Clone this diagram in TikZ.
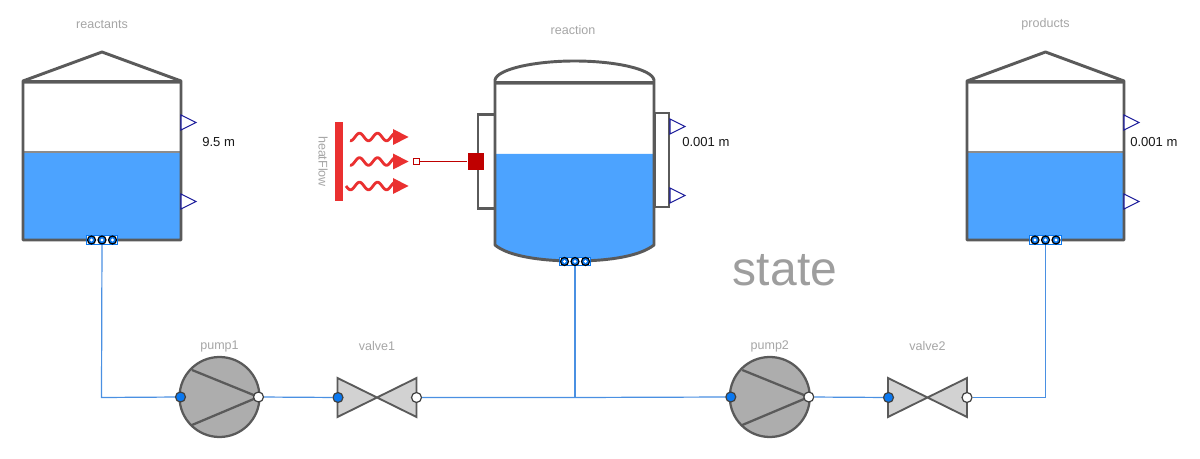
\documentclass[tikz,border=0pt]{standalone}
\usepackage{fontspec}
\setmainfont{Liberation Sans}
\definecolor{tankline}{HTML}{5A5A5A}
\definecolor{fluid}{HTML}{4CA3FF}
\definecolor{pipe}{HTML}{4A90E2}
\definecolor{port}{HTML}{0A78F0}
\definecolor{heat}{HTML}{EA3030}
\definecolor{darkred}{HTML}{BF0000}
\definecolor{labelgray}{HTML}{A6A6A6}
\definecolor{pumpfill}{HTML}{ADADAD}
\definecolor{valvefill}{HTML}{D2D2D2}
\definecolor{sensor}{HTML}{1A1A9A}
\tikzset{
  wall/.style={draw=tankline,line width=2.2pt,line join=round},
  thinwall/.style={draw=tankline,line width=1.6pt,line join=miter},
  pipeline/.style={draw=pipe,line width=0.9pt},
  portin/.style={circle,draw=black!75,line width=0.9pt,fill=port,minimum size=7.5pt,inner sep=0pt},
  portout/.style={circle,draw=black!75,line width=0.9pt,fill=white,minimum size=7.5pt,inner sep=0pt},
  tankport/.style={circle,draw=black,line width=0.9pt,fill=white,minimum size=6pt,inner sep=0pt,
     path picture={\fill[port] (path picture bounding box.south west) rectangle (path picture bounding box.north east);\fill[white] (path picture bounding box.center) circle (1.3pt);}},
  portframe/.style={draw=port,fill=white,line width=0.6pt,minimum width=23.5pt,minimum height=6.5pt,inner sep=0pt},
  lbl/.style={text=labelgray,font=\fontsize{9.4pt}{11pt}\selectfont,inner sep=0pt},
  val/.style={text=black!90,font=\fontsize{9.8pt}{11pt}\selectfont,inner sep=0pt,anchor=west},
  pumpbody/.style={circle,draw=tankline,line width=1.7pt,fill=pumpfill,minimum size=60pt,inner sep=0pt},
  pumpvane/.style={draw=tankline,line width=1.7pt},
  valvebody/.style={draw=tankline,line width=1.4pt,fill=valvefill,line join=miter},
  sensortri/.style={draw=sensor,fill=white,line width=0.8pt,line join=miter},
  heatwave/.style={draw=heat,line width=2.1pt},
  heathead/.style={fill=heat},
}
\newcommand{\opentank}[5]{% name, left x, right x, label, value
  \pgfmathsetmacro{\mx}{(#2+#3)/2}
  \fill[fluid] (#2,152) rectangle (#3,240);
  \draw[black!45,line width=0.9pt] (#2,152) -- (#3,152);
  \draw[black!40,line width=2.2pt] (#2,82.5) -- (#3,82.5);
  \draw[wall] (#2,240) -- (#2,81) -- (\mx,52) -- (#3,81) -- (#3,240) -- cycle;
  \draw[wall] (#2,81.5) -- (#3,81.5);
  \draw[sensortri] (#3,115) -- (#3+15,122.5) -- (#3,130) -- cycle;
  \draw[sensortri] (#3,194) -- (#3+15,201.5) -- (#3,209) -- cycle;
  \node[portframe] at (\mx,240) {};
  \node[tankport] (#1a) at (\mx-10.5,240) {};
  \node[tankport] (#1b) at (\mx,240) {};
  \node[tankport] (#1c) at (\mx+10.5,240) {};
  \node[lbl] (#1label) at (\mx,24.5) {#4};
}
\newcommand{\pumpunit}[4]{% name, center x, label
  \node[pumpbody] (#1) at (#2,397) {};
  \draw[pumpvane] (#2-27.5,370) -- (#2+39,397) -- (#2-27.5,425);
  \node[portin] (#1in) at (#2-39,397) {};
  \node[portout] (#1out) at (#2+39,397) {};
  \node[lbl] (#1label) at (#2,346) {#3};
}
\newcommand{\valveunit}[3]{% name, center x, label
  \draw[valvebody] (#2-39.5,378) -- (#2+39.5,417) -- (#2+39.5,378) -- (#2-39.5,417) -- cycle;
  \node[portin] (#1in) at (#2-39,397.5) {};
  \node[portout] (#1out) at (#2+39.5,397.5) {};
  \node[lbl] (#1label) at (#2,346) {#3};
}
\begin{document}
\begin{tikzpicture}[x=0.75pt,y=-0.75pt]
\useasboundingbox (0,0) rectangle (1200,459);
\fill[white] (0,0) rectangle (1200,459);

% pipes first
\coordinate (junction) at (575,397.5);
\coordinate (c1) at (101.5,397.5);
\coordinate (c2) at (1045.5,397.5);

% left tank
\opentank{reactants}{23}{181}{reactants}{}
\node[val] (reactantsval) at (202,142) {9.5 m};
% right tank
\opentank{products}{967}{1124}{products}{}
\node[val] (productsval) at (1130,142) {0.001 m};

% centre tank
\fill[fluid] (495,154) -- (654,154) -- (654,245) .. controls (640,256) and (610,261) .. (574.5,261) .. controls (540,261) and (508,256) .. (495,245) -- cycle;
\draw[thinwall,fill=white] (478,114.5) rectangle (495,208.5);
\draw[thinwall,fill=white] (654.5,113) rectangle (669,207);
\draw[black!40,line width=2.2pt] (495,83.5) -- (654,83.5);
\draw[wall] (495,245) -- (495,80) .. controls (497,69) and (535,61) .. (574.5,61) .. controls (615,61) and (652,69) .. (654,80) -- (654,245) .. controls (640,256) and (610,261) .. (574.5,261) .. controls (540,261) and (508,256) .. (495,245) -- cycle;
\draw[wall] (495,82.5) -- (654,82.5);
\draw[sensortri] (670,119) -- (685,126.5) -- (670,134) -- cycle;
\draw[sensortri] (670,188) -- (685,195.5) -- (670,203) -- cycle;
\node[portframe] at (575,261.5) {};
\node[tankport] (reactiona) at (564.5,261.5) {};
\node[tankport] (reactionb) at (575,261.5) {};
\node[tankport] (reactionc) at (585.5,261.5) {};
\node[lbl] (reactionlabel) at (573,30.5) {reaction};
\node[val] (reactionval) at (682,142) {0.001 m};
\node[text=labelgray!95!black,font=\fontsize{36pt}{40pt}\selectfont,inner sep=0pt] (statelabel) at (785,270) {state};

% heat flow
\fill[heat] (335,122) rectangle (343,201);
\foreach \yy/\xs in {137/350,161.5/350,186/346}{
  \draw[heatwave] plot[domain=\xs:394,samples=70] (\x,{\yy-3.8*cos(20*(\x-359.5))});
  \fill[heathead] (393,\yy-8) -- (408.5,\yy) -- (393,\yy+8) -- cycle;
}
\node[lbl,rotate=-90] (heatlabel) at (323,161.5) {heatFlow};
\node[draw=darkred,fill=white,line width=0.8pt,minimum size=4.8pt,inner sep=0pt] (heatport) at (416.5,161.5) {};
\node[fill=darkred,minimum size=12.5pt,inner sep=0pt] (wallport) at (476,161.5) {};
\draw[darkred,line width=0.8pt] (heatport) -- (wallport);

% pumps and valves
\pumpunit{pumpa}{219.5}{pump1}{}
\pumpunit{pumpb}{769.8}{pump2}{}
\valveunit{valvea}{377}{valve1}
\valveunit{valveb}{927.5}{valve2}

% connectors
\draw[pipeline] (reactantsb) -- (c1) -- (pumpain);
\draw[pipeline] (pumpaout) -- (valveain);
\draw[pipeline] (valveaout) -- (junction) -- (pumpbin);
\draw[pipeline] (reactionb) -- (junction);
\draw[pipeline] (pumpbout) -- (valvebin);
\draw[pipeline] (valvebout) -- (c2) -- (productsb);
\end{tikzpicture}
\end{document}
